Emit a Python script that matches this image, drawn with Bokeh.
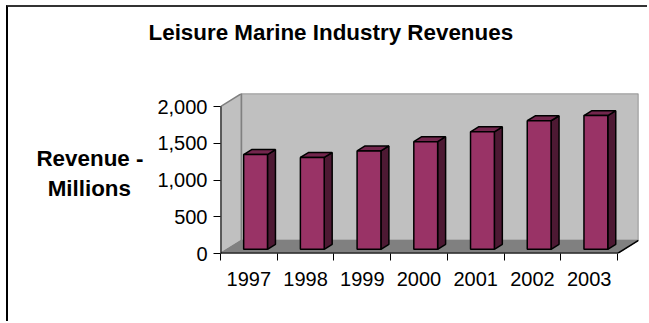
from bokeh.plotting import figure
from bokeh.models import Range1d, FixedTicker, NumeralTickFormatter, Title
from bokeh.embed import file_html
from bokeh.resources import INLINE

# ---- data ----
years = ["1997", "1998", "1999", "2000", "2001", "2002", "2003"]
revenue = [1290, 1250, 1340, 1465, 1600, 1750, 1820]
y_ticks = [0, 500, 1000, 1500, 2000]
title_text = "Leisure Marine Industry Revenues"
ylabel_text = "Revenue -\nMillions  "

# ---- 3D geometry (in data units) ----
n = len(years)
y_max = 2000
depth_x = 0.37      # full depth offset in category units
depth_y = 178       # full depth offset in value units
bar_w = 0.42
f_front, f_back = 0.32, 0.70

FRONT = "#993366"
SIDE = "#4d1933"
TOP = "#73264d"
FONT = "Liberation Sans"

p = figure(width=641, height=316, output_backend="svg", toolbar_location=None,
           x_range=Range1d(0, n + depth_x),
           y_range=Range1d(0, y_max + depth_y),
           min_border_left=212, min_border_right=11, min_border_top=86,
           min_border_bottom=70)
p.styles = {"margin-top": "5px", "margin-left": "6px",
            "border-top": "2px solid #333333", "border-left": "2px solid #000000"}
p.outline_line_color = None
p.background_fill_color = "white"
p.border_fill_color = "white"
p.xgrid.visible = False
p.ygrid.visible = False

# title (outermost) and a spacer between it and the plot area
p.title.text = title_text
p.title.align = "left"
p.title.offset = -72
p.title.standoff = 0
p.title.vertical_align = "bottom"
p.title.text_font = FONT
p.title.text_font_style = "bold"
p.title.text_font_size = "22.4px"
p.title.text_color = "black"
p.add_layout(Title(text=" ", text_font_size="10px", standoff=36), "above")

# walls and floor
p.patch([0, 0, depth_x, depth_x], [0, y_max, y_max + depth_y, depth_y],
        fill_color="#c0c0c0", line_color="#808080", line_width=1.5)
p.patch([depth_x, n + depth_x, n + depth_x, depth_x],
        [depth_y, depth_y, y_max + depth_y, y_max + depth_y],
        fill_color="#c0c0c0", line_color="#808080", line_width=1.5)
p.patch([0, n, n + depth_x, depth_x], [0, 0, depth_y, depth_y],
        fill_color="#808080", line_color="#808080", line_width=1)
p.line([n, n + depth_x], [0, depth_y], line_color="black", line_width=1.5)

# bars
fx, fy = f_front * depth_x, f_front * depth_y
ddx, ddy = (f_back - f_front) * depth_x, (f_back - f_front) * depth_y
fronts_x, fronts_y, sides_x, sides_y, tops_x, tops_y = [], [], [], [], [], []
for i, v in enumerate(revenue):
    x0 = i + 0.5 + fx - bar_w / 2
    x1 = x0 + bar_w
    y0 = fy
    y1 = v + fy
    fronts_x.append([x0, x1, x1, x0]); fronts_y.append([y0, y0, y1, y1])
    sides_x.append([x1, x1 + ddx, x1 + ddx, x1]); sides_y.append([y0, y0 + ddy, y1 + ddy, y1])
    tops_x.append([x0, x1, x1 + ddx, x0 + ddx]); tops_y.append([y1, y1, y1 + ddy, y1 + ddy])
p.patches(sides_x, sides_y, fill_color=SIDE, line_color="black", line_width=1.5)
p.patches(tops_x, tops_y, fill_color=TOP, line_color="black", line_width=1.5)
p.patches(fronts_x, fronts_y, fill_color=FRONT, line_color="black", line_width=1.5)

# axis lines (front plane only)
p.line([0, n], [0, 0], line_color="black", line_width=2)
p.line([0, 0], [0, y_max], line_color="black", line_width=2)

# y axis
ya = p.yaxis[0]
ya.ticker = FixedTicker(ticks=y_ticks, minor_ticks=[])
ya.formatter = NumeralTickFormatter(format="0,0")
ya.axis_line_color = None
ya.major_tick_out = 7
ya.major_tick_in = 0
ya.major_tick_line_color = "black"
ya.major_tick_line_width = 1
ya.major_label_standoff = 6
ya.major_label_text_font = FONT
ya.major_label_text_font_size = "20px"
ya.major_label_text_color = "black"
ya.axis_label = ylabel_text
ya.axis_label_standoff = 11
ya.axis_label_text_font = FONT
ya.axis_label_text_font_style = "bold"
ya.axis_label_text_font_size = "22.4px"
ya.axis_label_text_color = "black"
ya.axis_label_text_line_height = 1.2
if "axis_label_orientation" in ya.properties():
    ya.axis_label_orientation = "horizontal"

# x axis: labels at category centres, ticks at boundaries
xa = p.xaxis[0]
xa.ticker = FixedTicker(ticks=[i + 0.5 for i in range(n)],
                        minor_ticks=list(range(n + 1)))
xa.major_label_overrides = {i + 0.5: y for i, y in enumerate(years)}
xa.axis_line_color = None
xa.major_tick_line_color = None
xa.major_tick_out = 7
xa.major_tick_in = 0
xa.minor_tick_out = 7
xa.minor_tick_in = 0
xa.minor_tick_line_color = "black"
xa.minor_tick_line_width = 1
xa.major_label_standoff = 11
xa.major_label_text_font = FONT
xa.major_label_text_font_size = "20px"
xa.major_label_text_color = "black"

open("out.html", "w").write(file_html(p, INLINE))
